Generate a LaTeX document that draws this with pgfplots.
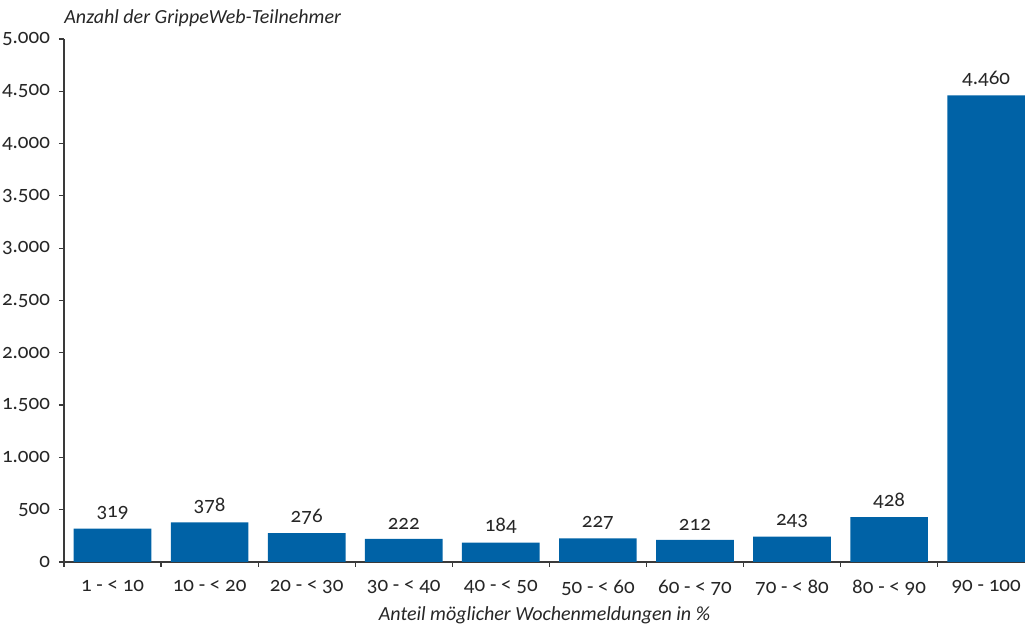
\documentclass[border=0pt]{standalone}
\usepackage{fontspec}
\setmainfont{Carlito}[RawFeature=+onum]
\usepackage{pgfplots}
\pgfplotsset{compat=1.18}
\definecolor{barblue}{HTML}{0062A6}
\definecolor{axgray}{HTML}{3A3A3A}
\begin{document}
\begin{tikzpicture}
\begin{axis}[name=ax, scale only axis, width=480.5pt, height=261.5pt,
  xmin=-0.5, xmax=9.4, ymin=0, ymax=5000,
  ybar, bar width=0.8,
  axis x line*=bottom, axis y line*=left,
  axis line style={axgray, line width=0.6pt},
  every tick/.style={axgray, line width=0.6pt},
  tick align=outside,
  major tick length=2.5pt, minor tick length=2.5pt,
  ytick={0,500,...,5000},
  xtick={0,...,9},
  xticklabels={1 - < 10, 10 - < 20, 20 - < 30, 30 - < 40, 40 - < 50, 50 - < 60, 60 - < 70, 70 - < 80, 80 - < 90, 90 - 100},
  major x tick style={draw=none},
  minor xtick={-0.5,0.5,...,8.5},
  /pgf/number format/.cd, 1000 sep={.}, assume math mode=true, /pgfplots/.cd,
  tick label style={font=\fontsize{10.5}{12}\selectfont, text=black!85},
  yticklabel style={xshift=-1pt},
  xticklabel style={yshift=-3pt},
  title={Anzahl der GrippeWeb-Teilnehmer},
  title style={at={(0,1)}, anchor=base west, yshift=1.5pt, inner sep=0pt, font=\itshape\fontsize{10}{12}\selectfont, text=black!85},
  xlabel={Anteil möglicher Wochenmeldungen in \%},
  xlabel style={at={(0.5,0)}, anchor=base, yshift=-29.5pt, inner sep=0pt, font=\itshape\fontsize{10}{12}\selectfont, text=black!85},
  nodes near coords,
  nodes near coords style={font=\fontsize{10.5}{12}\selectfont, text=black!85, anchor=south, yshift=1pt},
]
\addplot[fill=barblue, draw=none] coordinates {(0,319) (1,378) (2,276) (3,222) (4,184) (5,227) (6,212) (7,243) (8,428) (9,4460)};
\end{axis}
\pgfresetboundingbox
\path (ax.south west) ++(-32pt,-32pt) rectangle ++(512.5pt,313pt);
\end{tikzpicture}
\end{document}
